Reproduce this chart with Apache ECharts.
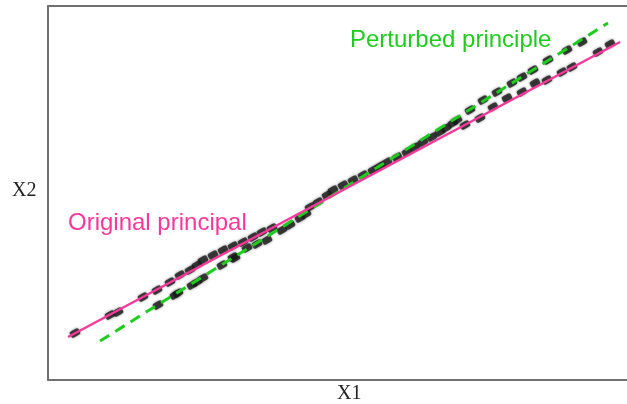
<!DOCTYPE html>
<html>
<head>
<meta charset="utf-8">
<script src="https://cdn.jsdelivr.net/npm/echarts@6/dist/echarts.min.js"></script>
<style>
html,body{margin:0;padding:0;background:#fff;}
#c{width:627px;height:404px;}
</style>
</head>
<body>
<div id="c"></div>
<script>
// Axis ranges (arbitrary units)
const xRange = [0, 579];
const yRange = [0, 374];

// Observed points (X1, X2)
const points = [
  [27,47],[62,65],[70,68],[95,83],[109,90],[122,98],[132,105],[142,110],[149,115],
  [155,120],[165,125],[175,130],[185,134],[195,138],[205,143],[214,148],[224,152],
  [110,75],[127,85],[130,87],[144,95],[149,98],[155,102],[174,115],[187,122],
  [185,123],[199,132],[209,136],[219,140],
  [234,150],[242,155],[252,162],[258,166],[262,173],[270,178],[279,185],[285,190],[295,195],
  [305,200],[315,205],[325,210],[332,214],[339,218],[349,223],[359,228],[367,233],[375,238],
  [384,243],[392,248],[398,252],[405,257],
  [409,260],[422,270],[435,280],[449,288],[464,297],[474,303],[485,310],[500,320],
  [519,330],[534,338],
  [417,255],[432,262],[445,273],[459,282],[474,288],[487,297],[499,300],[514,308],
  [524,313],[550,328],[562,336]
];

// Principal directions (end points)
const originalLine = [[20,43],[572,338]];
const perturbedLine = [[52,39],[560,357]];

const labels = {
  original: 'Original principal',
  perturbed: 'Perturbed principle',
  x: 'X1',
  y: 'X2'
};

const chart = echarts.init(document.getElementById('c'));
const axisLineStyle = {color:'#707070', width:2};
chart.setOption({
  animation:false,
  backgroundColor:'#ffffff',
  grid:{left:48, right:0, top:6, bottom:24},
  xAxis:[
    {type:'value', min:xRange[0], max:xRange[1], axisLine:{show:true, onZero:false, lineStyle:axisLineStyle},
     axisTick:{show:false}, axisLabel:{show:false}, splitLine:{show:false}},
    {type:'value', position:'top', min:xRange[0], max:xRange[1], axisLine:{show:true, onZero:false, lineStyle:axisLineStyle},
     axisTick:{show:false}, axisLabel:{show:false}, splitLine:{show:false}}
  ],
  yAxis:{type:'value', min:yRange[0], max:yRange[1], axisLine:{show:true, onZero:false, lineStyle:axisLineStyle},
     axisTick:{show:false}, axisLabel:{show:false}, splitLine:{show:false}},
  series:[
    {type:'scatter', data:points, symbol:'roundRect', symbolSize:[10,7], symbolRotate:29,
     itemStyle:{color:'#1a1a1a', shadowColor:'rgba(0,0,0,0.55)', shadowBlur:3}, z:1},
    {type:'line', data:originalLine, showSymbol:false, symbol:'none',
     lineStyle:{color:'#f7389a', width:2.5}, z:3},
    {type:'line', data:perturbedLine, showSymbol:false, symbol:'none',
     lineStyle:{color:'#1ecc1e', width:3, type:[11,7]}, z:2}
  ],
  graphic:[
    {type:'text', left:350, top:28, style:{text:labels.perturbed, fill:'#1ecc1e', font:'24px "Liberation Sans", Arial, sans-serif'}},
    {type:'text', left:68, top:211, style:{text:labels.original, fill:'#f7389a', font:'24px "Liberation Sans", Arial, sans-serif'}},
    {type:'text', left:337, top:384, style:{text:labels.x, fill:'#222', font:'20px "Liberation Serif", serif'}},
    {type:'text', left:12, top:181, style:{text:labels.y, fill:'#222', font:'20px "Liberation Serif", serif'}}
  ]
});
</script>
</body>
</html>
